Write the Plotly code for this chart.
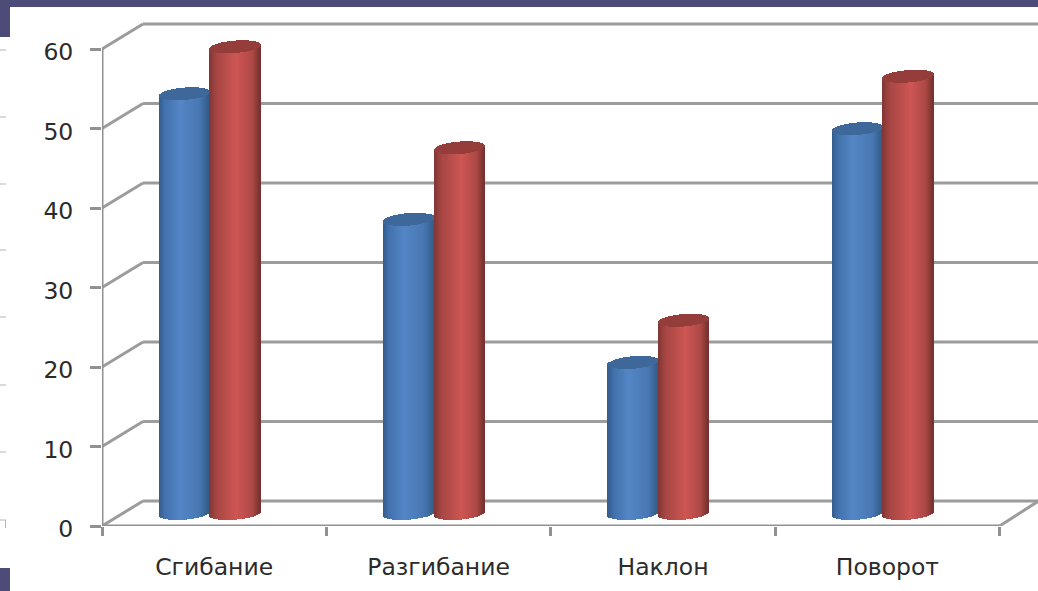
import numpy as np
import plotly.graph_objects as go

# Chart data
categories = ["Сгибание", "Разгибание", "Наклон", "Поворот"]
series_blue = [52.8, 37.0, 19.0, 48.4]
series_red = [58.7, 46.0, 24.3, 55.0]
y_ticks = [0, 10, 20, 30, 40, 50, 60]

# Page and scale geometry (pixels)
W, H = 1038, 591
LEFT, FLOOR = 102, 526
PX_X = 224.4      # pixels per category
PX_Y = 7.95       # pixels per value unit
DEPTH_X = 41 / PX_X
DEPTH_Y = 25 / PX_Y
X_MAX = (W - LEFT) / PX_X
Y_MAX = FLOOR / PX_Y

CYL_W = 50.5 / PX_X          # cylinder diameter
CYL_BASE = DEPTH_Y / 2       # cylinders stand mid-way through the floor
ELL = 6.2 / PX_Y             # ellipse half-height
SHEAR = 2.0 / PX_Y           # slight tilt of the ellipses
GROUP_SHIFT = -4.4 / PX_X
GRID = "#9c9c9c"
AXIS = "#919191"


def shade(t, stops):
    """Colour across the cylinder width, t in [0, 1]."""
    pos = [s[0] for s in stops]
    return "rgb({:.0f},{:.0f},{:.0f})".format(
        *[np.interp(t, pos, [s[1][i] for s in stops]) for i in range(3)]
    )


BLUE_STOPS = [(0, (50, 92, 142)), (0.12, (66, 114, 172)), (0.42, (84, 134, 198)),
              (0.8, (72, 120, 178)), (1, (52, 90, 135))]
RED_STOPS = [(0, (128, 54, 52)), (0.15, (166, 70, 67)), (0.55, (206, 86, 83)),
             (0.85, (172, 72, 70)), (1, (118, 48, 46))]


def cylinder_traces(values, centre_offset, stops, cap_colour):
    xs, bases, heights, colours = [], [], [], []
    cap_x, cap_b, cap_h = [], [], []
    step = 1 / PX_X
    n = int(round(CYL_W / step))
    for i, v in enumerate(values):
        cx = i + 0.5 + GROUP_SHIFT + centre_offset
        for k in range(n):
            t = (k + 0.5) / n
            u = 2 * t - 1
            arc = ELL * np.sqrt(1 - u ** 2)
            tilt = SHEAR * u
            x = cx + u * CYL_W / 2
            low = CYL_BASE + tilt - arc
            front_top = CYL_BASE + v + tilt - arc
            back_top = CYL_BASE + v + tilt + arc
            xs.append(x)
            bases.append(low)
            heights.append(front_top - low)
            colours.append(shade(t, stops))
            cap_x.append(x)
            cap_b.append(front_top)
            cap_h.append(back_top - front_top)
    width = step * 1.25
    body = go.Bar(x=xs, y=heights, base=bases, width=width,
                  marker=dict(color=colours, line=dict(width=0)),
                  hoverinfo="skip", showlegend=False)
    cap = go.Bar(x=cap_x, y=cap_h, base=cap_b, width=width,
                 marker=dict(color=cap_colour, line=dict(width=0)),
                 hoverinfo="skip", showlegend=False)
    return [body, cap]


fig = go.Figure()
half = CYL_W / 2
for tr in cylinder_traces(series_blue, -half, BLUE_STOPS, "#3d6899"):
    fig.add_trace(tr)
for tr in cylinder_traces(series_red, half, RED_STOPS, "#953d3b"):
    fig.add_trace(tr)

# Back wall lines sit behind the cylinders
shapes = []
for t in y_ticks:
    shapes.append(dict(type="line", xref="x", yref="y", x0=DEPTH_X, y0=t + DEPTH_Y,
                       x1=X_MAX, y1=t + DEPTH_Y, layer="below",
                       line=dict(color=GRID, width=3)))


def open_line(xs, ys, colour, width=3):
    """Box edge that may overhang the plot area."""
    fig.add_trace(go.Scatter(x=xs, y=ys, mode="lines", cliponaxis=False,
                             line=dict(color=colour, width=width),
                             hoverinfo="skip", showlegend=False))


# Side wall diagonals, vertical axis and floor edges
for t in y_ticks:
    open_line([0, DEPTH_X], [t, t + DEPTH_Y], GRID)
n_cat = len(categories)
open_line([0, 0], [y_ticks[0], y_ticks[-1]], AXIS)
open_line([0, n_cat], [0, 0], AXIS)
open_line([n_cat, n_cat + DEPTH_X * 0.95], [0, DEPTH_Y], GRID)


# Slide decoration around the chart, placed in page pixels
def page_rect(x0, y0, x1, y1, colour):
    shapes.append(dict(type="rect", xref="paper", yref="paper",
                       x0=(x0 - LEFT) / (W - LEFT), x1=(x1 - LEFT) / (W - LEFT),
                       y0=(FLOOR - y0) / FLOOR, y1=(FLOOR - y1) / FLOOR,
                       fillcolor=colour, line=dict(width=0), layer="above"))


page_rect(0, 0, W, 7, "#4d4b78")
page_rect(0, 0, 10, 37, "#4d4b78")
page_rect(0, 568, 10, 591, "#4d4b78")
for y in [50, 117, 184, 250, 317, 385, 452, 520]:
    page_rect(0, y - 0.5, 6, y + 0.5, "#b4b4b4")
page_rect(5, 520, 6, 528, "#b4b4b4")

axis_font = dict(family="DejaVu Sans", size=23.5, color="#2b2b2b")
fig.update_layout(
    width=W, height=H,
    margin=dict(l=LEFT, r=0, t=0, b=H - FLOOR, pad=0),
    paper_bgcolor="white", plot_bgcolor="white",
    barmode="overlay", bargap=0,
    showlegend=False,
    shapes=shapes,
    xaxis=dict(
        range=[0, X_MAX], showgrid=False, zeroline=False, showline=False,
        tickvals=[i + 0.5 for i in range(n_cat)], ticktext=categories,
        ticks="", tickfont=axis_font, ticklabelstandoff=24,
        minor=dict(tickvals=list(range(n_cat + 1)), ticks="outside",
                   ticklen=9, tickwidth=3, tickcolor=AXIS, showgrid=False),
    ),
    yaxis=dict(
        range=[0, Y_MAX], showgrid=False, zeroline=False, showline=False,
        tickvals=y_ticks, ticks="outside", ticklen=11, tickwidth=3,
        tickcolor=AXIS, tickfont=axis_font, ticklabelstandoff=12,
        ticklabelshift=3,
    ),
)

fig.write_html("out.html", config={"displayModeBar": False})
